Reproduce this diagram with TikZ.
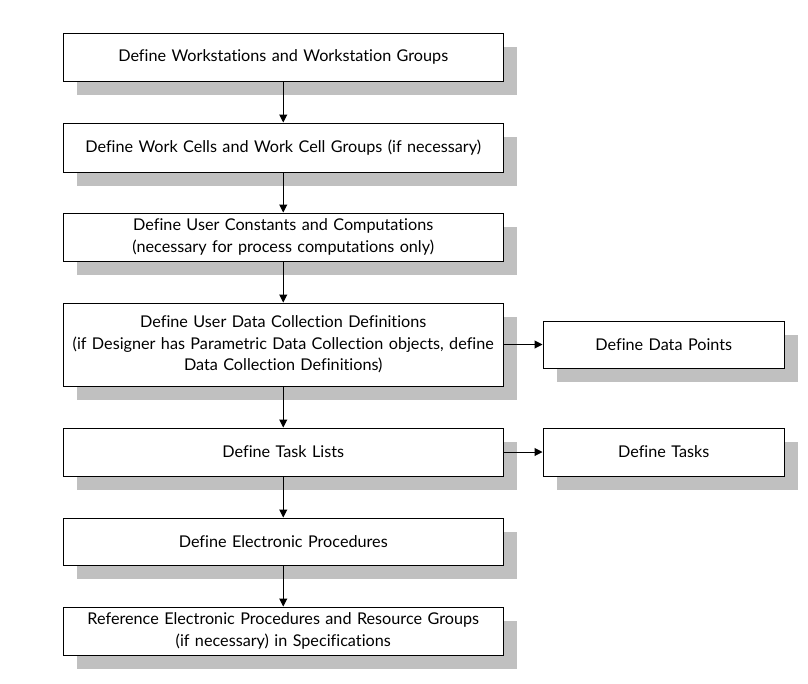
\documentclass[tikz,border=0pt]{standalone}
\usepackage{fontspec}
\setmainfont{Lato}[Ligatures=NoCommon]
\usetikzlibrary{arrows.meta,shadows}
\definecolor{shadowgray}{RGB}{192,192,192}
\tikzset{
  box/.style={draw=black, fill=white, line width=1pt, align=center,
    inner sep=0pt, minimum height=48pt,
    font=\fontsize{16.2}{21.5}\selectfont,
    general shadow={fill=shadowgray, shadow xshift=13.5pt, shadow yshift=-13.5pt}},
  mainbox/.style={box, minimum width=439.5pt, text width=436pt},
  sidebox/.style={box, minimum width=241.5pt, text width=235pt},
  conn/.style={draw=black, line width=1pt, -{Triangle[length=8pt,width=8pt]}}
}
\begin{document}
\begin{tikzpicture}[x=1pt,y=-1pt]
\useasboundingbox (0,0) rectangle (808,683);
\node[mainbox] (b1) at (283.25,57) {Define Workstations and Workstation Groups};
\node[mainbox, minimum height=49pt] (b2) at (283.25,147.5) {Define Work Cells and Work Cell Groups (if necessary)};
\node[mainbox] (b3) at (283.25,237) {Define User Constants and Computations\\(necessary for process computations only)};
\node[mainbox, minimum height=83pt] (b4) at (283.25,344.5) {Define User Data Collection Definitions\\(if Designer has Parametric Data Collection objects, define\\Data Collection Definitions)};
\node[mainbox] (b5) at (283.25,452) {Define Task Lists};
\node[mainbox, minimum height=47pt] (b6) at (283.25,541.5) {Define Electronic Procedures};
\node[mainbox] (b7) at (283.25,631) {Reference Electronic Procedures and Resource Groups\\(if necessary) in Specifications};
\node[sidebox, minimum height=47pt] (r1) at (663.75,344.5) {Define Data Points};
\node[sidebox] (r2) at (663.75,452) {Define Tasks};
\draw[conn] (b1) -- (b2);
\draw[conn] (b2) -- (b3);
\draw[conn] (b3) -- (b4);
\draw[conn] (b4) -- (b5);
\draw[conn] (b5) -- (b6);
\draw[conn] (b6) -- (b7);
\draw[conn] (b4) -- (r1);
\draw[conn] (b5) -- (r2);
\end{tikzpicture}
\end{document}
